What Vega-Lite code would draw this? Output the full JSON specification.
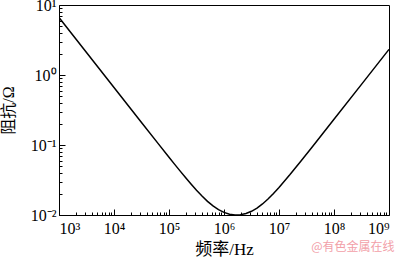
{
  "$schema": "https://vega.github.io/schema/vega-lite/v6.json",
  "width": 330,
  "height": 210,
  "autosize": {"type": "none"},
  "padding": {"left": 59, "top": 5, "right": 11, "bottom": 42},
  "background": "white",
  "title": {"text": "@有色金属在线", "orient": "bottom", "anchor": "end", "offset": -15, "dx": 5, "fontSize": 12, "fontWeight": "normal", "color": "#f2a0a8", "font": "Noto Sans CJK SC"},
  "config": {
    "view": {"stroke": "black", "strokeWidth": 1},
    "font": "Liberation Serif, Noto Sans CJK SC",
    "axis": {"grid": false, "domain": false, "tickColor": "black", "labelColor": "black", "titleColor": "black", "labelFont": "Liberation Serif", "labelFontSize": 16, "titleFontWeight": "normal", "tickWidth": 1}
  },
  "data": {"values": [
    {"f": 1000, "z": 6.6315},
    {"f": 3162, "z": 2.0971},
    {"f": 10000, "z": 0.66313},
    {"f": 31623, "z": 0.20988},
    {"f": 63096, "z": 0.10543},
    {"f": 100000, "z": 0.06683},
    {"f": 125893, "z": 0.05333},
    {"f": 158489, "z": 0.04266},
    {"f": 199526, "z": 0.03426},
    {"f": 251189, "z": 0.02769},
    {"f": 316228, "z": 0.02257},
    {"f": 398107, "z": 0.01864},
    {"f": 501187, "z": 0.01567},
    {"f": 630957, "z": 0.01348},
    {"f": 794328, "z": 0.01193},
    {"f": 1000000, "z": 0.01089},
    {"f": 1258925, "z": 0.01027},
    {"f": 1584893, "z": 0.010012},
    {"f": 1995262, "z": 0.010086},
    {"f": 2511886, "z": 0.010499},
    {"f": 3162278, "z": 0.011297},
    {"f": 3981072, "z": 0.012554},
    {"f": 5011872, "z": 0.014377},
    {"f": 6309573, "z": 0.016895},
    {"f": 7943282, "z": 0.020271},
    {"f": 10000000, "z": 0.0247},
    {"f": 15848932, "z": 0.03778},
    {"f": 25118864, "z": 0.05899},
    {"f": 39810717, "z": 0.09293},
    {"f": 63095734, "z": 0.14692},
    {"f": 100000000, "z": 0.2327},
    {"f": 316227766, "z": 0.73524},
    {"f": 1000000000, "z": 2.3248}
  ]},
  "layer": [
    {
      "mark": {"type": "line", "color": "black", "strokeWidth": 1.5, "clip": true},
      "encoding": {
        "x": {"field": "f", "type": "quantitative", "scale": {"type": "log", "domain": [1000, 1000000000], "nice": false},
          "axis": {"orient": "bottom", "title": "频率/Hz", "titleFontSize": 17, "titleFont": "Liberation Serif, Noto Sans CJK SC", "values": [1000, 10000, 100000, 1000000, 10000000, 100000000, 1000000000], "tickSize": -6, "labelPadding": 11, "titlePadding": 5,
            "labelExpr": "'10' + (datum.value < 1 ? '⁻' : '') + ['⁰','¹','²','³','⁴','⁵','⁶','⁷','⁸','⁹'][abs(round(log(datum.value)/LN10))]"}},
        "y": {"field": "z", "type": "quantitative", "scale": {"type": "log", "domain": [0.01, 10], "nice": false},
          "axis": {"orient": "left", "title": "阻抗/Ω", "titleFontSize": 16, "titleFont": "Liberation Serif, Noto Sans CJK SC", "values": [0.01, 0.1, 1, 10], "tickSize": -6, "labelPadding": 9, "titlePadding": 14,
            "labelExpr": "'10' + (datum.value < 1 ? '⁻' : '') + ['⁰','¹','²','³','⁴','⁵','⁶','⁷','⁸','⁹'][abs(round(log(datum.value)/LN10))]"}}
      }
    },
    {
      "mark": {"type": "line", "opacity": 0},
      "encoding": {
        "x": {"field": "f", "type": "quantitative",
          "axis": {"orient": "bottom", "title": null, "labels": false, "tickSize": -3,
            "values": [2000,3000,4000,5000,6000,7000,8000,9000,20000,30000,40000,50000,60000,70000,80000,90000,200000,300000,400000,500000,600000,700000,800000,900000,2000000,3000000,4000000,5000000,6000000,7000000,8000000,9000000,20000000,30000000,40000000,50000000,60000000,70000000,80000000,90000000,200000000,300000000,400000000,500000000,600000000,700000000,800000000,900000000]}},
        "y": {"field": "z", "type": "quantitative",
          "axis": {"orient": "left", "title": null, "labels": false, "tickSize": -3,
            "values": [0.02,0.03,0.04,0.05,0.06,0.07,0.08,0.09,0.2,0.3,0.4,0.5,0.6,0.7,0.8,0.9,2,3,4,5,6,7,8,9]}}
      }
    }
  ],
  "resolve": {"axis": {"x": "independent", "y": "independent"}}
}
